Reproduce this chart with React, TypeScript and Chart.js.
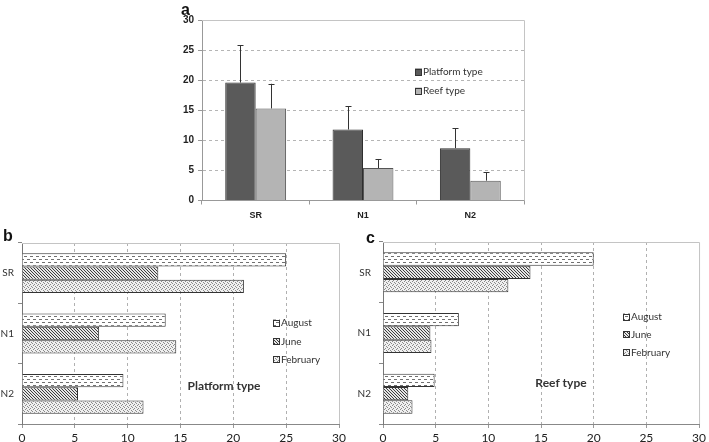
import React, { useEffect, useRef } from "react";
import { Chart, registerables } from "chart.js";

Chart.register(...registerables);

// ---------- data ----------
const groupCategories = ["SR", "N1", "N2"];
const typeLabels = ["Platform type", "Reef type"];
const platformMeans = [19.6, 11.8, 8.7];
const platformUpper = [25.8, 15.7, 12.0];
const reefMeans = [15.3, 5.4, 3.3];
const reefUpper = [19.4, 6.9, 4.7];

const monthLabels = ["August", "June", "February"];
const platformAugust = [25.0, 13.6, 9.6];
const platformJune = [12.9, 7.3, 5.3];
const platformFebruary = [21.0, 14.6, 11.5];
const reefAugust = [20.0, 7.2, 4.9];
const reefJune = [14.0, 4.5, 2.4];
const reefFebruary = [11.9, 4.6, 2.8];

const panelTitles = ["Platform type", "Reef type"];

// ---------- helpers ----------
function makePattern(kind: string): CanvasPattern | string {
  const c = document.createElement("canvas");
  const ctx = c.getContext("2d");
  if (!ctx) return "#ccc";
  if (kind === "aug") {
    c.width = 6; c.height = 6;
    ctx.fillStyle = "#ffffff"; ctx.fillRect(0, 0, 6, 6);
    ctx.fillStyle = "#707070";
    ctx.fillRect(0, 1, 3, 1);
    ctx.fillRect(3, 4, 3, 1);
  } else if (kind === "jun") {
    c.width = 3; c.height = 3;
    ctx.fillStyle = "#e6e6e6"; ctx.fillRect(0, 0, 3, 3);
    ctx.fillStyle = "#3c3c3c";
    for (let i = 0; i < 3; i++) ctx.fillRect(i, i, 1, 1);
  } else {
    c.width = 4; c.height = 4;
    ctx.fillStyle = "#f0f0f0"; ctx.fillRect(0, 0, 4, 4);
    ctx.fillStyle = "#8a8a8a";
    ctx.fillRect(1, 0, 1, 1); ctx.fillRect(3, 1, 1, 1);
    ctx.fillRect(0, 2, 1, 1); ctx.fillRect(2, 3, 1, 1);
  }
  const p = ctx.createPattern(c, "repeat");
  return p || "#ccc";
}

const framePlugin = {
  id: "frame",
  beforeDatasetsDraw(chart: any) {
    const { ctx, chartArea: a } = chart;
    ctx.save();
    ctx.strokeStyle = "#c4c4c4";
    ctx.lineWidth = 1;
    ctx.beginPath();
    ctx.moveTo(a.left, a.top + 0.5);
    ctx.lineTo(a.right + 0.5, a.top + 0.5);
    ctx.lineTo(a.right + 0.5, a.bottom);
    ctx.stroke();
    ctx.restore();
  },
};

const errorBarPlugin = {
  id: "errorBars",
  afterDatasetsDraw(chart: any) {
    const { ctx } = chart;
    const yScale = chart.scales.y;
    ctx.save();
    ctx.strokeStyle = "#333";
    ctx.lineWidth = 1;
    chart.data.datasets.forEach((ds: any, i: number) => {
      const meta = chart.getDatasetMeta(i);
      meta.data.forEach((el: any, j: number) => {
        const upper = ds.upper[j];
        const yTop = yScale.getPixelForValue(upper);
        const x = Math.round(el.x) + 0.5;
        ctx.beginPath();
        ctx.moveTo(x, el.y);
        ctx.lineTo(x, yTop);
        ctx.moveTo(x - 3, Math.round(yTop) + 0.5);
        ctx.lineTo(x + 3, Math.round(yTop) + 0.5);
        ctx.stroke();
      });
    });
    ctx.restore();
  },
};

function makeLegendPlugin(opts: { x: number; ys: number[]; box: number; font: string; title?: string; titleX?: number; titleY?: number }) {
  return {
    id: "customLegend",
    afterDraw(chart: any) {
      const { ctx } = chart;
      ctx.save();
      chart.data.datasets.forEach((ds: any, i: number) => {
        const y = opts.ys[i];
        ctx.fillStyle = ds.backgroundColor;
        ctx.fillRect(opts.x, y - opts.box / 2, opts.box, opts.box);
        ctx.strokeStyle = "#333";
        ctx.lineWidth = 1;
        ctx.strokeRect(opts.x + 0.5, Math.round(y - opts.box / 2) + 0.5, opts.box - 1, opts.box - 1);
        ctx.fillStyle = "#333";
        ctx.font = opts.font;
        ctx.textBaseline = "middle";
        ctx.textAlign = "left";
        ctx.fillText(ds.label, opts.x + opts.box + 1, y);
      });
      if (opts.title) {
        ctx.fillStyle = "#333";
        ctx.font = "bold 12px Lato";
        ctx.textAlign = "center";
        ctx.textBaseline = "middle";
        ctx.fillText(opts.title, opts.titleX, opts.titleY);
      }
      ctx.restore();
    },
  };
}

function hConfig(aug: number[], jun: number[], feb: number[], pats: any[], geom: any, legendPlugin: any) {
  return {
    type: "bar",
    data: {
      labels: groupCategories,
      datasets: [
        { label: monthLabels[0], data: aug, backgroundColor: pats[0], borderColor: "#333", borderWidth: 1 },
        { label: monthLabels[1], data: jun, backgroundColor: pats[1], borderColor: "#333", borderWidth: 1 },
        { label: monthLabels[2], data: feb, backgroundColor: pats[2], borderColor: "#333", borderWidth: 1 },
      ],
    },
    options: {
      indexAxis: "y",
      responsive: false,
      animation: false,
      layout: { padding: { left: 0, right: geom.padRight, top: geom.padTop, bottom: 0 } },
      datasets: { bar: { categoryPercentage: 0.66, barPercentage: 1 } },
      plugins: { legend: { display: false }, tooltip: { enabled: false } },
      scales: {
        x: {
          type: "linear",
          min: 0,
          max: 30,
          ticks: { stepSize: 5, color: "#222", font: { family: "Lato", size: 12 }, padding: 3 },
          grid: {
            color: (c: any) => (c.tick && (c.tick.value === 0 || c.tick.value === 30) ? "rgba(0,0,0,0)" : "#b0b0b0"),
            tickColor: "#999",
            tickLength: 4,
          },
          border: { color: "#888", dash: [3, 3] },
          afterFit: (s: any) => { s.height = geom.xHeight; },
        },
        y: {
          ticks: { color: "#333", font: { family: "Lato", size: 10 }, padding: geom.yPad },
          grid: { offset: true, drawOnChartArea: false, tickLength: 4, color: "#888" },
          border: { color: "#777" },
          afterFit: (s: any) => { s.width = geom.yWidth; },
        },
      },
    },
    plugins: [framePlugin, legendPlugin],
  };
}

export default function App() {
  const refA = useRef<HTMLCanvasElement>(null);
  const refB = useRef<HTMLCanvasElement>(null);
  const refC = useRef<HTMLCanvasElement>(null);

  useEffect(() => {
    document.body.style.margin = "0";
    const charts: Chart[] = [];

    const legendA = makeLegendPlugin({ x: 245, ys: [72, 91], box: 7, font: "10px Lato" });
    const cfgA: any = {
      type: "bar",
      data: {
        labels: groupCategories,
        datasets: [
          { label: typeLabels[0], data: platformMeans, upper: platformUpper, backgroundColor: "#5a5a5a", borderColor: "#2e2e2e", borderWidth: 1 },
          { label: typeLabels[1], data: reefMeans, upper: reefUpper, backgroundColor: "#b4b4b4", borderColor: "#555", borderWidth: 1 },
        ],
      },
      options: {
        responsive: false,
        animation: false,
        layout: { padding: { left: 0, right: 16, top: 20, bottom: 0 } },
        datasets: { bar: { categoryPercentage: 0.567, barPercentage: 1 } },
        plugins: { legend: { display: false }, tooltip: { enabled: false } },
        scales: {
          x: {
            ticks: { color: "#222", font: { family: "Liberation Sans", size: 9, weight: "bold" }, padding: 6 },
            grid: { offset: true, drawOnChartArea: false, tickLength: 4, color: "#999" },
            border: { color: "#999" },
            afterFit: (s: any) => { s.height = 24.5; },
          },
          y: {
            min: 0,
            max: 30,
            ticks: { stepSize: 5, color: "#222", font: { family: "Liberation Sans", size: 10, weight: "bold" }, padding: 4 },
            grid: {
              color: (c: any) => (c.tick && (c.tick.value === 0 || c.tick.value === 30) ? "rgba(0,0,0,0)" : "#b5b5b5"),
              tickColor: "#999",
              tickLength: 4,
            },
            border: { color: "#999", dash: [3, 3] },
            afterFit: (s: any) => { s.width = 32; },
          },
        },
      },
      plugins: [framePlugin, errorBarPlugin, legendA],
    };

    const pats = [makePattern("aug"), makePattern("jun"), makePattern("feb")];
    const legendB = makeLegendPlugin({ x: 273, ys: [98, 116.5, 134.5], box: 7, font: "10px Lato", title: panelTitles[0], titleX: 224, titleY: 161 });
    const legendC = makeLegendPlugin({ x: 268, ys: [92, 109.5, 127.5], box: 7, font: "10px Lato", title: panelTitles[1], titleX: 206, titleY: 158.5 });

    const cfgB: any = hConfig(platformAugust, platformJune, platformFebruary, pats,
      { padRight: 16, padTop: 18, xHeight: 18, yWidth: 22, yPad: 4 }, legendB);
    const cfgC: any = hConfig(reefAugust, reefJune, reefFebruary, pats,
      { padRight: 7, padTop: 17, xHeight: 18, yWidth: 28, yPad: 8 }, legendC);

    if (refA.current) charts.push(new Chart(refA.current, cfgA));
    if (refB.current) charts.push(new Chart(refB.current, cfgB));
    if (refC.current) charts.push(new Chart(refC.current, cfgC));
    return () => charts.forEach((c) => c.destroy());
  }, []);

  const letter: React.CSSProperties = {
    position: "absolute",
    fontFamily: "Liberation Sans",
    fontWeight: "bold",
    fontSize: 16,
    lineHeight: "16px",
    color: "#111",
  };

  return (
    <div style={{ position: "relative", width: 709, height: 442, background: "#fff", overflow: "hidden" }}>
      <canvas ref={refA} width={370} height={225} style={{ position: "absolute", left: 170, top: 0, width: 370, height: 225 }} />
      <canvas ref={refB} width={355} height={217} style={{ position: "absolute", left: 0, top: 225, width: 355, height: 217 }} />
      <canvas ref={refC} width={354} height={217} style={{ position: "absolute", left: 355, top: 225, width: 354, height: 217 }} />
      <div style={{ ...letter, left: 181, top: 2 }}>a</div>
      <div style={{ ...letter, left: 3, top: 228 }}>b</div>
      <div style={{ ...letter, left: 366, top: 230 }}>c</div>
    </div>
  );
}
